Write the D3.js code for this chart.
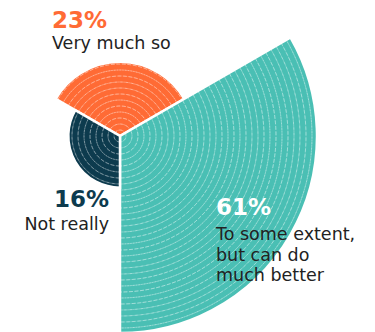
<!DOCTYPE html>
<html>
<head>
<meta charset="utf-8">
<script src="https://cdn.jsdelivr.net/npm/d3@7"></script>
<style>
html,body{margin:0;padding:0;background:#fff;}
svg{display:block;}
text{font-family:"DejaVu Sans","Noto Sans",sans-serif;}
</style>
</head>
<body>
<svg id="chart" width="375" height="332"></svg>
<script>
const categories = ["Very much so", "To some extent, but can do much better", "Not really"];
const values = [23, 61, 16];
const percentLabels = ["23%", "61%", "16%"];
const labelLines = [["Very much so"], ["To some extent,", "but can do", "much better"], ["Not really"]];
const colors = ["#FF6B35", "#4ABFB4", "#0D3B4E"];

const svg = d3.select("#chart");
const cx = 120, cy = 136;
const g = svg.append("g").attr("transform", `translate(${cx},${cy})`);

const r = d3.scaleLinear().domain([0, 61]).range([0, 197]);

const pie = d3.pie().value(() => 1).sort(null)
  .startAngle(-Math.PI / 3).endAngle(2 * Math.PI - Math.PI / 3);
const arcs = pie(values);

const arc = d3.arc().innerRadius(0).outerRadius(d => r(d.data));

const slices = g.selectAll("g.slice").data(arcs).enter().append("g").attr("class", "slice");

slices.each(function(d, i) {
  const sel = d3.select(this);
  sel.append("path").attr("d", arc(d)).attr("fill", colors[i]);
  const rings = d3.range(6, r(d.data), 6);
  sel.selectAll("path.ring").data(rings).enter().append("path")
    .attr("class", "ring")
    .attr("d", rr => d3.arc().innerRadius(rr).outerRadius(rr).startAngle(d.startAngle).endAngle(d.endAngle)())
    .attr("fill", "none")
    .attr("stroke", "#fff")
    .attr("stroke-opacity", 0.35)
    .attr("stroke-width", 0.8)
    .attr("stroke-dasharray", "4 1.5");
  sel.append("path").attr("d", arc(d)).attr("fill", "none")
    .attr("stroke", "#fff").attr("stroke-width", 2.5).attr("stroke-linejoin", "miter");
});

const lab = [
  {x: 52, y: 28, anchor: "start", pctColor: colors[0], lineY: 49},
  {x: 216, y: 215, anchor: "start", pctColor: "#fff", lineY: 240},
  {x: 109, y: 207, anchor: "end", pctColor: colors[2], lineY: 230}
];
lab.forEach((l, i) => {
  svg.append("text").attr("x", l.x).attr("y", l.y).attr("text-anchor", l.anchor)
    .attr("fill", l.pctColor).attr("font-size", 23).attr("font-weight", 700)
    .text(percentLabels[i]);
  labelLines[i].forEach((t, j) => {
    svg.append("text").attr("x", l.x).attr("y", l.lineY + j * 20.5).attr("text-anchor", l.anchor)
      .attr("fill", "#222").attr("font-size", 17.5)
      .text(t);
  });
});
</script>
</body>
</html>
